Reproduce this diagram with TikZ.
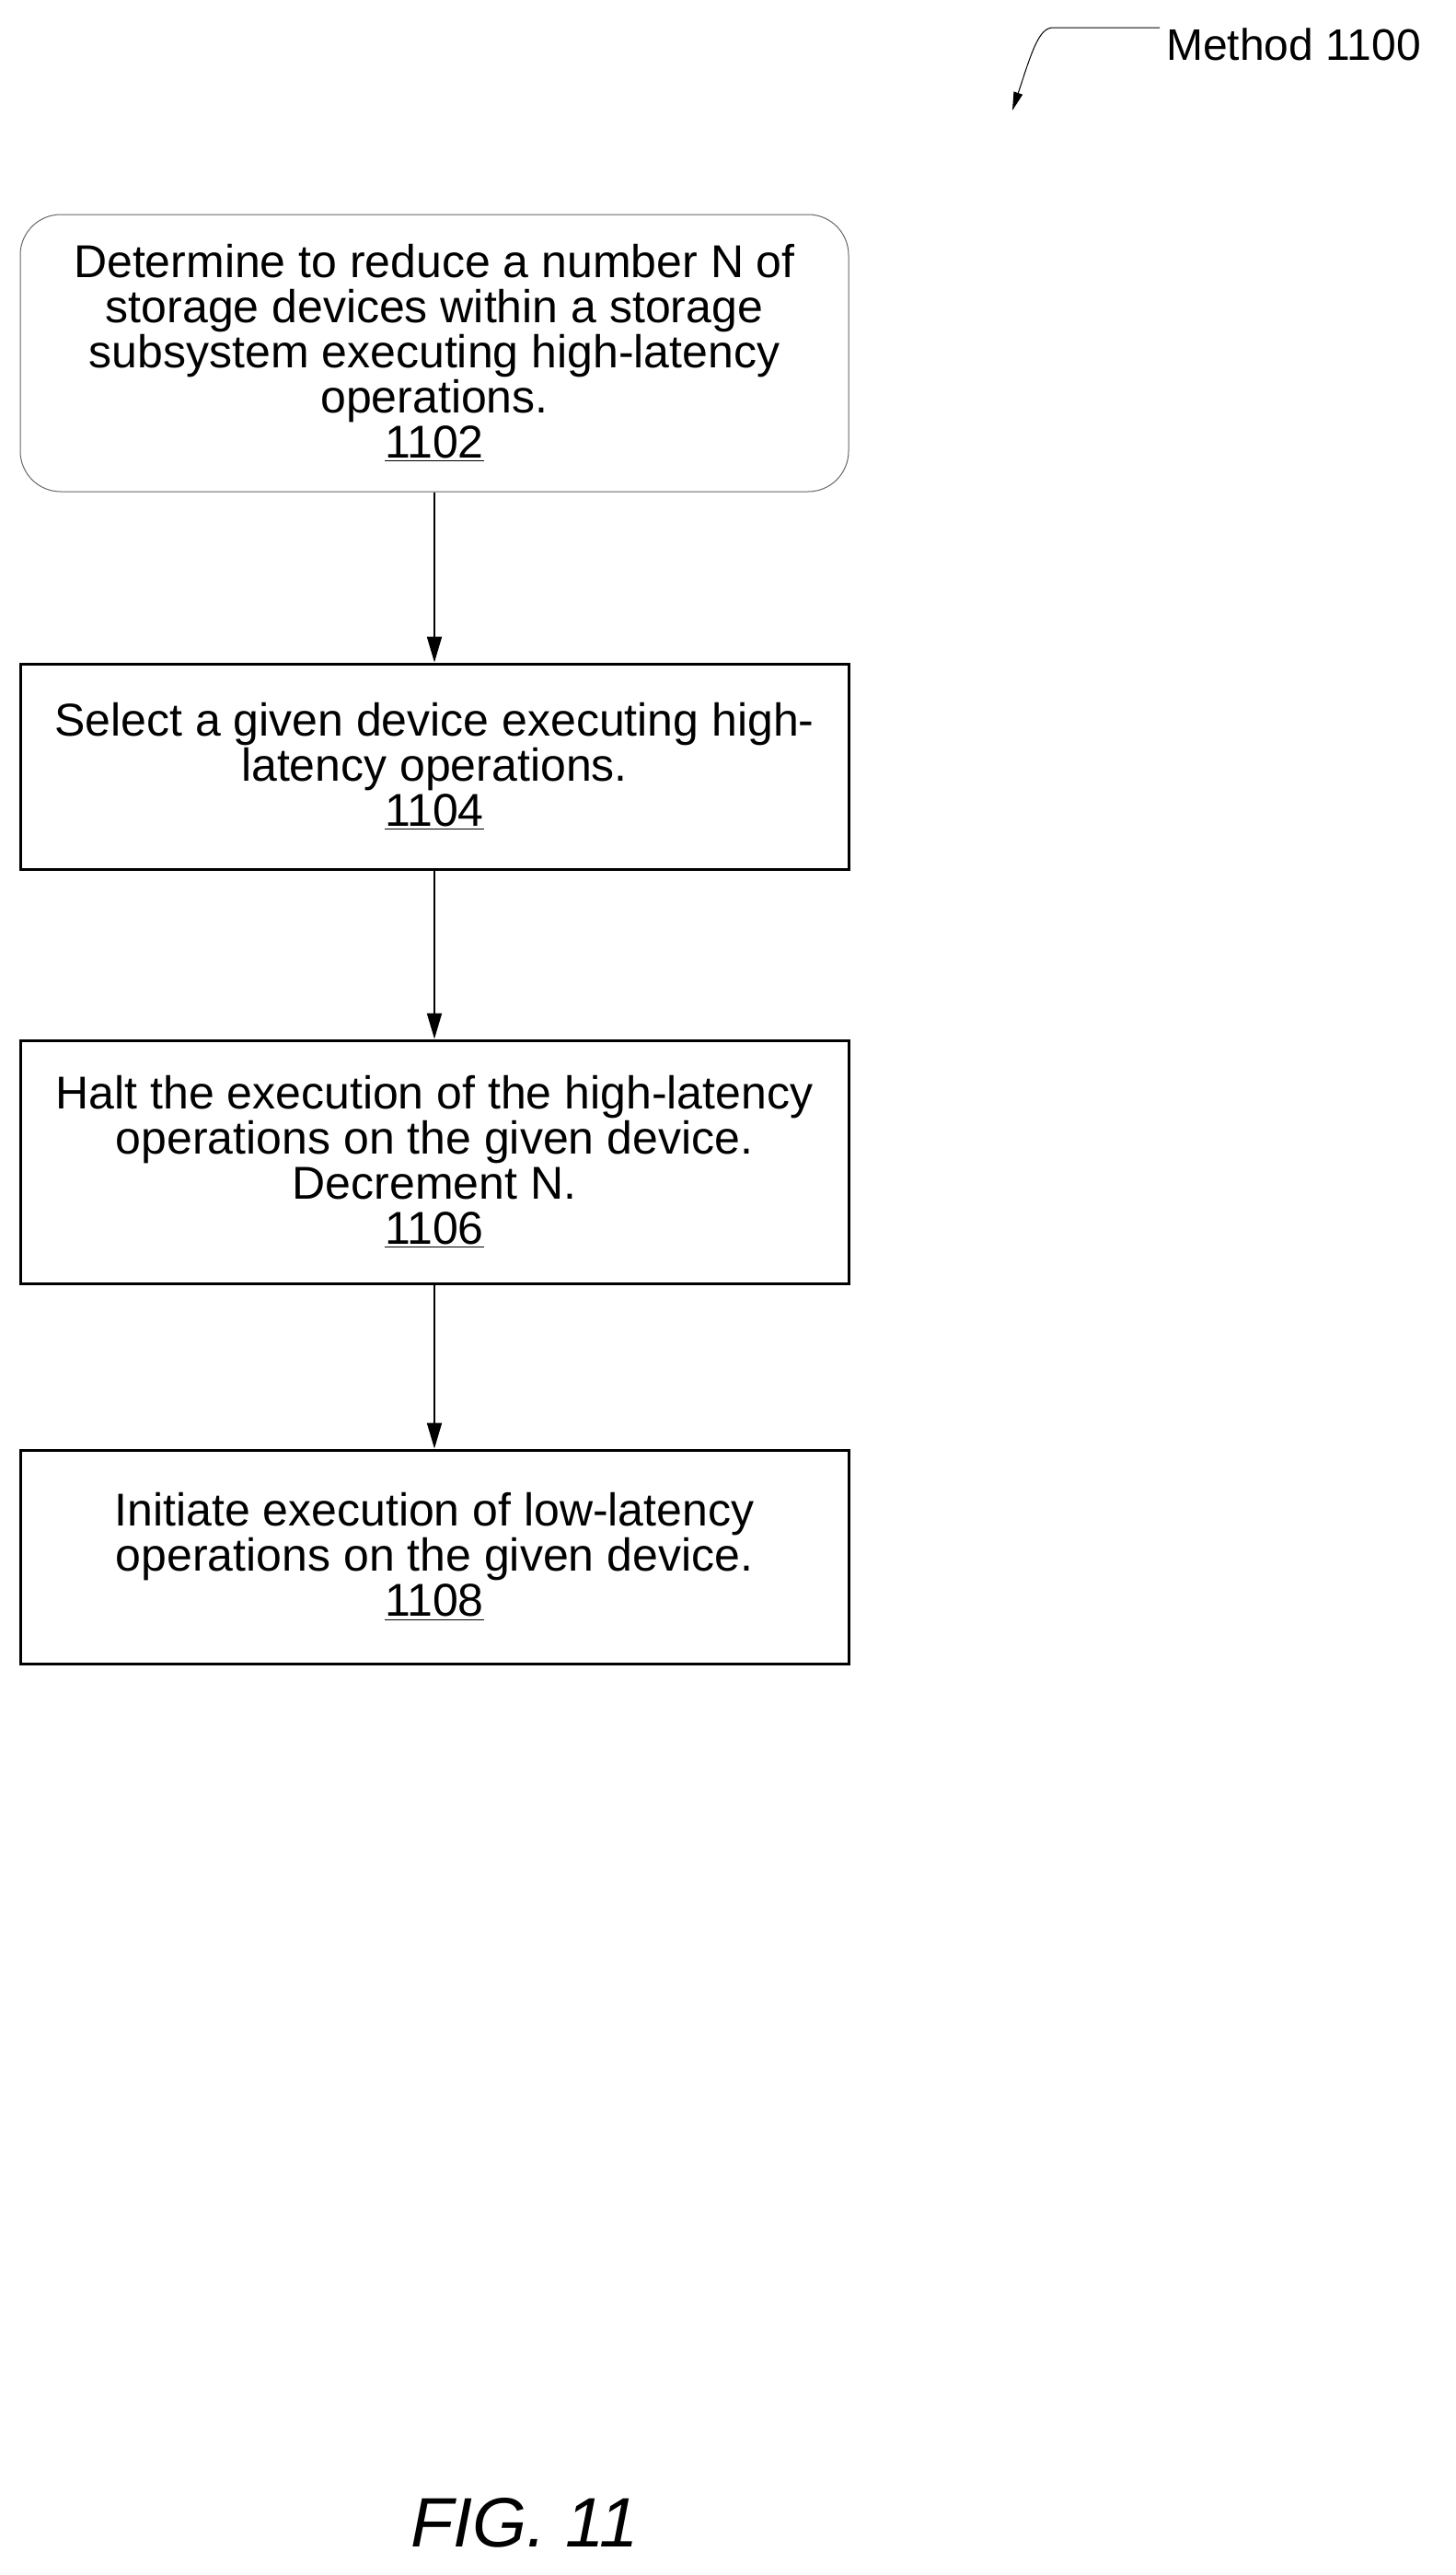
\documentclass[tikz,border=0pt]{standalone}
\usepackage{fontspec}
\setmainfont{Liberation Sans}
\usetikzlibrary{arrows.meta}
\begin{document}
\begin{tikzpicture}[x=1pt,y=1pt,
  box/.style={draw,line width=1.5pt,minimum width=450pt,align=center,inner sep=0pt,font=\fontsize{25}{24.5}\selectfont},
  rbox/.style={box,line width=0.5pt,draw=black!60,rounded corners=22pt},
  arr/.style={-{Triangle[length=14pt,width=8pt]},line width=1pt}]
\useasboundingbox (0,0) rectangle (790.5,-1398.5);
\node[rbox,minimum height=150.5pt] (b1) at (236,-191.75) {Determine to reduce a number N of\\storage devices within a storage\\subsystem executing high-latency\\operations.\\\underline{1102}};
\node[box,minimum height=111.5pt] (b2) at (236,-416.25) {Select a given device executing high-\\latency operations.\\\underline{1104}};
\node[box,minimum height=132pt] (b3) at (236,-631) {Halt the execution of the high-latency\\operations on the given device.\\Decrement N.\\\underline{1106}};
\node[box,minimum height=116pt] (b4) at (236,-845.5) {Initiate execution of low-latency\\operations on the given device.\\\underline{1108}};
\draw[arr] (b1) -- (b2);
\draw[arr] (b2) -- (b3);
\draw[arr] (b3) -- (b4);
\node[font=\fontsize{24}{25}\selectfont,anchor=west] (m) at (630,-24) {Method 1100};
\coordinate (t) at (550,-60);
\draw[-{Triangle[length=10pt,width=5pt]},line width=0.5pt] (m.west|-0,-15) -- (572,-15) .. controls (564,-15) and (560,-30) .. (t);
\node[font=\itshape\fontsize{38}{40}\selectfont] (fig) at (285,-1370) {FIG. 11};
\end{tikzpicture}
\end{document}
